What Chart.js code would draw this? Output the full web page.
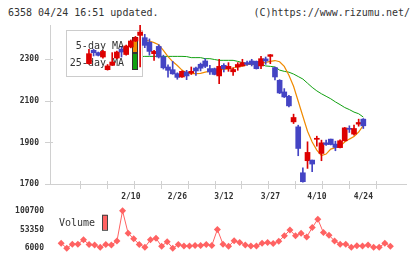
<!DOCTYPE html>
<html>
<head>
<meta charset="utf-8">
<script src="https://cdn.jsdelivr.net/npm/chart.js@4.4.1/dist/chart.umd.min.js"></script>
<style>
  body { margin: 0; background: #fff; width: 420px; height: 259px; overflow: hidden; position: relative; font-family: "DejaVu Sans Mono", monospace; }
  .hdr { position: absolute; top: 6px; font-size: 10px; line-height: 13px; color: #333; white-space: pre; }
  #price { position: absolute; left: 0; top: 0; width: 420px; height: 205px; }
  #vol { position: absolute; left: 0; top: 200px; width: 420px; height: 59px; }
</style>
</head>
<body>
<div class="hdr" style="left:8px">6358 04/24 16:51 updated.</div>
<div class="hdr" style="right:10px">(C)https://www.rizumu.net/</div>
<canvas id="price" width="420" height="205"></canvas>
<canvas id="vol" width="420" height="59"></canvas>
<script>
const dates = ['1/28','1/29','1/30','1/31','2/3','2/4','2/5','2/6','2/7','2/10',
  '2/12','2/13','2/14','2/17','2/18','2/19','2/20','2/21','2/25','2/26',
  '2/27','2/28','3/3','3/4','3/5','3/6','3/7','3/10','3/11','3/12',
  '3/13','3/14','3/17','3/18','3/19','3/21','3/24','3/25','3/26','3/27',
  '3/28','3/31','4/1','4/2','4/3','4/4','4/7','4/8','4/9','4/10',
  '4/11','4/14','4/15','4/16','4/17','4/18','4/21','4/22','4/23','4/24'];
const labelDates = ['2/10', '2/26', '3/12', '3/27', '4/10', '4/24'];

const opens = [2279,2343,2332,2311,2250,2271,2306,2348,2323,2359,
  2388,2415,2404,2382,2327,2362,2311,2263,2250,2231,
  2215,2239,2234,2258,2276,2292,2255,2255,2220,2271,
  2255,2240,2263,2268,2284,2292,2290,2268,2302,2314,
  2260,2199,2143,2122,1999,1975,1754,1812,1815,1915,
  1847,1898,1916,1892,1875,1908,1967,1940,1988,2012];
const highs = [2348,2348,2335,2343,2275,2332,2340,2359,2368,2393,
  2410,2463,2420,2398,2343,2370,2320,2273,2290,2235,
  2245,2247,2263,2263,2282,2303,2271,2258,2300,2279,
  2284,2259,2284,2300,2292,2300,2292,2314,2311,2323,
  2263,2202,2159,2127,2036,1983,1778,1903,1815,1930,
  1911,1911,1916,1906,1913,1972,1980,1983,2012,2015];
const lows = [2276,2316,2316,2306,2248,2271,2303,2311,2320,2355,
  2385,2263,2356,2320,2295,2306,2253,2214,2228,2204,
  2213,2202,2227,2223,2244,2260,2227,2225,2183,2239,
  2242,2223,2247,2268,2271,2268,2253,2255,2276,2279,
  2201,2135,2116,2071,1991,1836,1709,1775,1759,1882,
  1812,1886,1888,1860,1873,1906,1948,1935,1978,1967];
const closes = [2327,2332,2319,2338,2268,2287,2335,2335,2364,2388,
  2404,2431,2367,2338,2338,2311,2259,2247,2230,2213,
  2242,2220,2242,2244,2257,2266,2239,2227,2266,2255,
  2266,2251,2275,2284,2276,2276,2255,2303,2292,2322,
  2215,2138,2119,2076,2020,1871,1711,1852,1796,1920,
  1898,1890,1890,1876,1908,1970,1963,1967,1996,1980];

const ma5 = [2287,2292,2300,2310,2315,2309,2310,2313,2320,2342,
  2365,2385,2392,2388,2380,2370,2343,2313,2289,2270,
  2248,2235,2231,2231,2232,2238,2243,2247,2250,2251,
  2254,2258,2263,2267,2274,2278,2280,2282,2285,2290,
  2294,2288,2266,2223,2170,2098,2026,1954,1902,1863,
  1837,1844,1868,1875,1882,1902,1916,1928,1950,1982];
const ma25 = [2300,2302,2304,2305,2306,2307,2308,2309,2310,2311,
  2312,2313,2314,2314,2314,2314,2314,2314,2314,2314,
  2314,2313,2308,2308,2308,2303,2303,2299,2295,2295,
  2295,2295,2290,2284,2276,2276,2276,2276,2268,2266,
  2263,2248,2242,2238,2229,2217,2205,2185,2165,2148,
  2134,2122,2110,2095,2082,2068,2058,2046,2038,2022];

const volumes = [18600,6000,16300,16300,27300,15500,13900,8400,15500,13900,
  24100,100700,43900,29700,15500,8400,27300,31200,10700,22600,
  6000,15500,11500,11500,13100,13100,15500,13100,53350,16300,
  10700,24900,20200,13900,11500,11500,18600,20200,17800,23400,
  37600,51800,37600,43900,34400,58100,79400,45500,39100,24100,
  16300,16300,8400,12300,11500,13900,8400,8400,18600,10700];

const priceTicks = [1700, 1900, 2100, 2300];
const volumeTicks = [6000, 53350, 100700];

const UP = '#dd0000';
const DOWN = '#4444c4';
const MA5_COLOR = '#f08a00';
const MA25_COLOR = '#10a010';
const VOL_COLOR = '#ff6262';
const AXIS = '#d0d0d0';
const TEXT = '#333333';
const MONO = '"DejaVu Sans Mono", monospace';
const tickFont = { family: MONO, size: 8, weight: 'bold' };

const idx = dates.map((d, i) => i);
const candleColors = idx.map(i => closes[i] >= opens[i] ? UP : DOWN);
const X_MIN = -2, X_MAX = 61.8;

// tick marks crossing the axes, as in the original
const axisMarks = {
  id: 'axisMarks',
  afterDraw(chart) {
    const { ctx, scales: { x, y } } = chart;
    ctx.save();
    ctx.strokeStyle = AXIS;
    ctx.lineWidth = 1;
    ctx.beginPath();
    for (const v of priceTicks) {
      const py = Math.round(y.getPixelForValue(v)) + 0.5;
      ctx.moveTo(x.left - 5, py);
      ctx.lineTo(x.left + 3, py);
    }
    for (let k = 0; k <= 11; k++) {
      const px = Math.round(x.getPixelForValue(x.min + k * (x.max - x.min) / 11)) + 0.5;
      ctx.moveTo(px, y.bottom - 3);
      ctx.lineTo(px, y.bottom + 5);
    }
    ctx.stroke();
    ctx.restore();
  }
};

// MA legend box: covers the lines, candles go over it
const maLegend = {
  id: 'maLegend',
  beforeDatasetDraw(chart, args) {
    if (args.index !== 2) return;
    const { ctx, chartArea } = chart;
    const bx = chartArea.left + 16, by = chartArea.top + 5;
    ctx.save();
    ctx.fillStyle = '#ffffff';
    ctx.fillRect(bx, by, 77, 47);
    ctx.strokeStyle = '#cccccc';
    ctx.lineWidth = 1;
    ctx.strokeRect(bx + 0.5, by + 0.5, 76, 46);
    ctx.font = '10px ' + MONO;
    ctx.fillStyle = TEXT;
    ctx.textAlign = 'right';
    ctx.textBaseline = 'middle';
    ctx.fillText('5-day MA', bx + 58, by + 16);
    ctx.fillText('25-day MA', bx + 58, by + 33);
    ctx.strokeStyle = '#333333';
    ctx.fillStyle = MA5_COLOR;
    ctx.fillRect(bx + 66, by + 7, 5, 15);
    ctx.strokeRect(bx + 66.5, by + 7.5, 5, 15);
    ctx.fillStyle = MA25_COLOR;
    ctx.fillRect(bx + 66, by + 23, 5, 16);
    ctx.strokeRect(bx + 66.5, by + 23.5, 5, 16);
    ctx.restore();
  }
};

new Chart(document.getElementById('price'), {
  type: 'bar',
  data: {
    datasets: [
      {
        type: 'line',
        label: '25-day MA',
        data: idx.map(i => ({ x: i, y: ma25[i] })),
        borderColor: MA25_COLOR,
        borderWidth: 1,
        pointRadius: 0,
        order: 4,
      },
      {
        type: 'line',
        label: '5-day MA',
        data: idx.map(i => ({ x: i, y: ma5[i] })),
        borderColor: MA5_COLOR,
        borderWidth: 1.2,
        pointRadius: 0,
        order: 3,
      },
      {
        label: 'wick',
        data: idx.map(i => ({ x: i, y: [lows[i], highs[i]] })),
        backgroundColor: candleColors,
        barThickness: 1,
        grouped: false,
        order: 2,
      },
      {
        label: 'body',
        data: idx.map(i => ({ x: i, y: [opens[i], closes[i]] })),
        backgroundColor: candleColors,
        barThickness: 5,
        minBarLength: 1,
        grouped: false,
        order: 1,
      },
    ],
  },
  options: {
    responsive: false,
    animation: false,
    layout: { padding: { top: 25, right: 14, left: 0, bottom: 0 } },
    plugins: { legend: { display: false }, tooltip: { enabled: false } },
    scales: {
      x: {
        type: 'linear',
        min: X_MIN,
        max: X_MAX,
        afterFit: s => { s.height = 21; },
        afterBuildTicks: s => { s.ticks = labelDates.map(d => ({ value: dates.indexOf(d) })); },
        grid: { display: false, drawTicks: false },
        border: { display: true, color: AXIS },
        ticks: {
          autoSkip: false,
          maxRotation: 0,
          padding: 8,
          color: TEXT,
          font: tickFont,
          callback: v => dates[v],
        },
      },
      y: {
        min: 1700,
        max: 2465,
        afterFit: s => { s.width = 50; },
        afterBuildTicks: s => { s.ticks = priceTicks.map(v => ({ value: v })); },
        grid: { display: false, drawTicks: false },
        border: { display: true, color: AXIS },
        ticks: { padding: 11, color: TEXT, font: tickFont, callback: v => String(v) },
      },
    },
  },
  plugins: [axisMarks, maLegend],
});

const volLegend = {
  id: 'volLegend',
  afterDraw(chart) {
    const { ctx, chartArea } = chart;
    const lx = chartArea.left + 9, ly = chartArea.top + 13;
    ctx.save();
    ctx.font = '10px ' + MONO;
    ctx.fillStyle = TEXT;
    ctx.textBaseline = 'middle';
    ctx.fillText('Volume', lx, ly);
    ctx.fillStyle = VOL_COLOR;
    ctx.fillRect(lx + 43, ly - 9, 5, 15);
    ctx.strokeStyle = '#444444';
    ctx.strokeRect(lx + 43.5, ly - 8.5, 5, 15);
    ctx.restore();
  }
};

new Chart(document.getElementById('vol'), {
  type: 'line',
  data: {
    datasets: [{
      label: 'Volume',
      data: idx.map(i => ({ x: i, y: volumes[i] })),
      borderColor: VOL_COLOR,
      backgroundColor: VOL_COLOR,
      borderWidth: 1,
      pointStyle: 'rectRot',
      pointRadius: 3.5,
      pointBorderWidth: 0,
      clip: false,
    }],
  },
  options: {
    responsive: false,
    animation: false,
    layout: { padding: { top: 9, right: 14, left: 0, bottom: 10 } },
    plugins: { legend: { display: false }, tooltip: { enabled: false } },
    scales: {
      x: { type: 'linear', min: X_MIN, max: X_MAX, display: false },
      y: {
        min: 6000,
        max: 100700,
        afterFit: s => { s.width = 50; },
        afterBuildTicks: s => { s.ticks = volumeTicks.map(v => ({ value: v })); },
        grid: { display: false, drawTicks: false },
        border: { display: false },
        ticks: { padding: 6, color: TEXT, font: tickFont, callback: v => String(v) },
      },
    },
  },
  plugins: [volLegend],
});
</script>
</body>
</html>
